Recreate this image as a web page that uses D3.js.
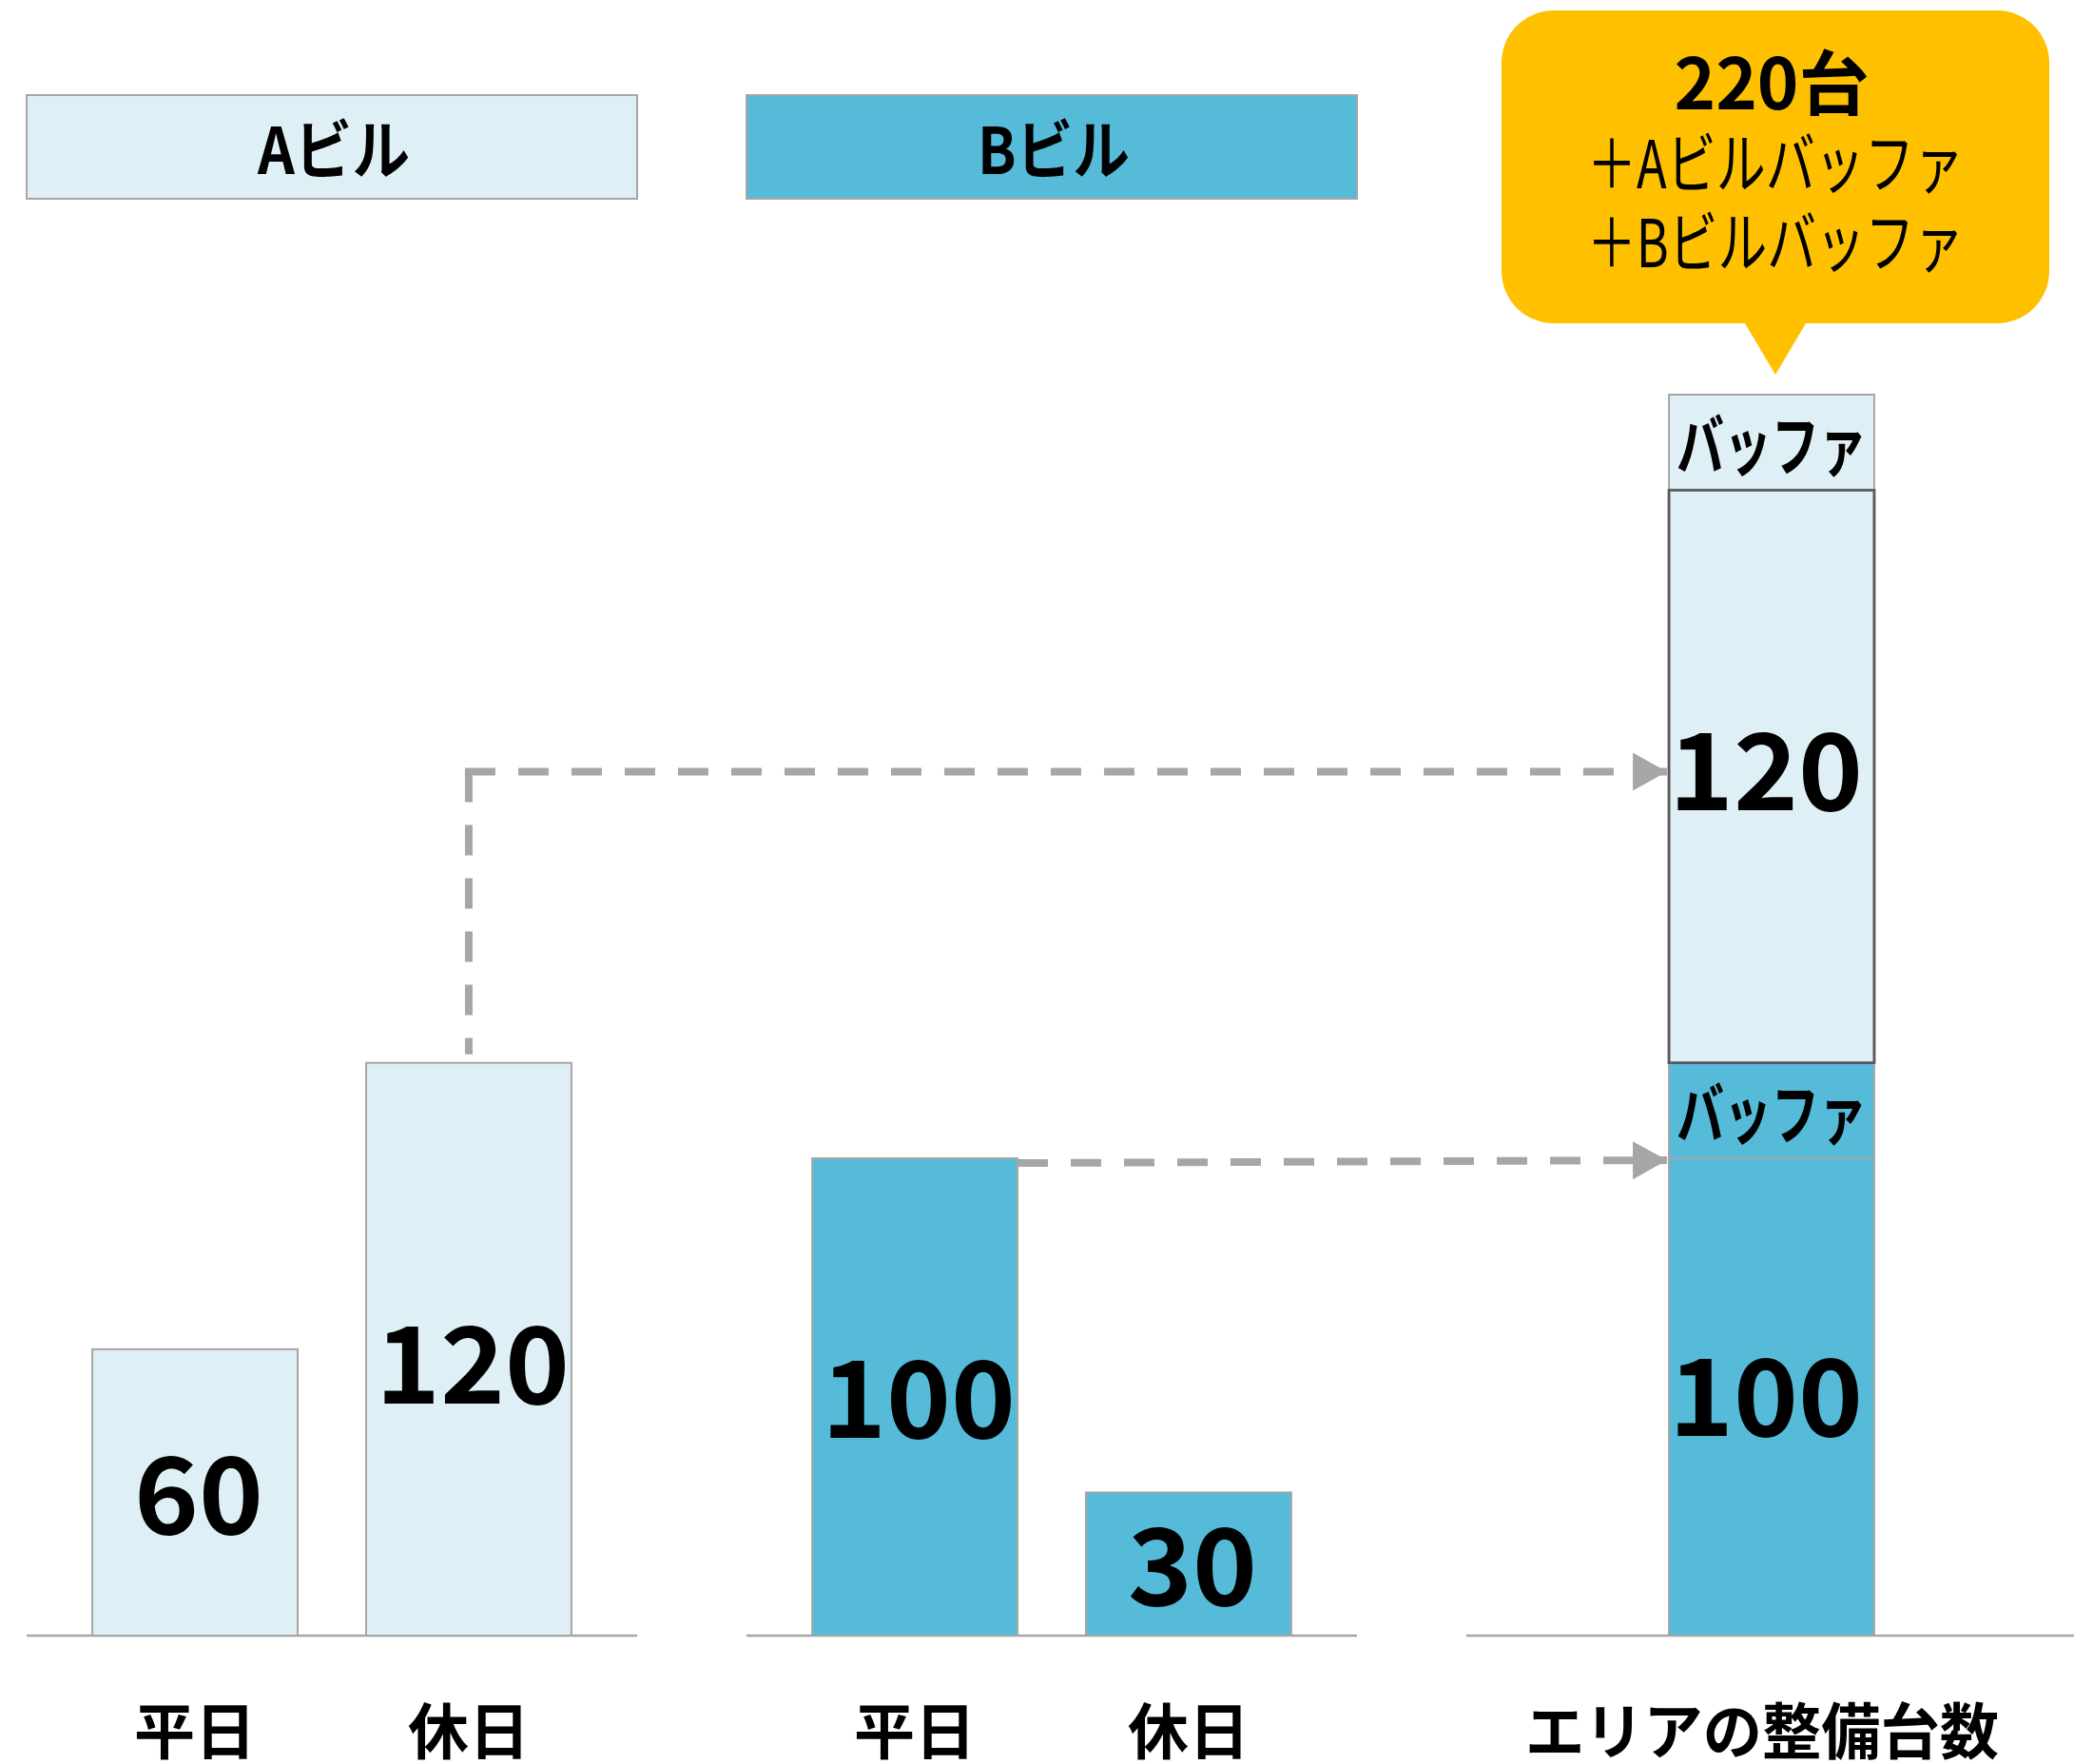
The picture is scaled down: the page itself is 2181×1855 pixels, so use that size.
<!DOCTYPE html>
<html><head><meta charset="utf-8">
<script src="https://cdn.jsdelivr.net/npm/d3@7"></script>
<style>
html,body{margin:0;padding:0;background:#fff;}
svg{display:block;}
text{font-family:"Noto Sans CJK JP","Noto Sans",sans-serif;fill:#000;}
</style></head>
<body>
<svg id="chart" width="2181" height="1855"></svg>
<script>
// ---- data ----
const panels = ["A", "B", "C"];
const groupTitles = ["Aビル", "Bビル"];
const categories = ["平日", "休日"];
const aValues = [60, 120];
const bValues = [100, 30];
const bufferValues = [20, 20];            // B buffer, A buffer
const bufferLabel = "バッファ";
const totalLabel = "エリアの整備台数";
const calloutLines = ["＋Aビルバッファ", "＋Bビルバッファ"];
const unitLabel = "台";

// ---- styles ----
const LIGHT = "#DEF0F6", BLUE = "#55BBD9", GRAY = "#A6A6A6", DARK = "#595959", GOLD = "#FFC000";

const svg = d3.select("#chart");
const stackSegments = [
  {key: "B", value: bValues[0], label: String(bValues[0]), fill: BLUE, stroke: GRAY},
  {key: "Bbuf", value: bufferValues[0], label: bufferLabel, fill: BLUE, stroke: GRAY},
  {key: "A", value: aValues[1], label: String(aValues[1]), fill: LIGHT, stroke: DARK},
  {key: "Abuf", value: bufferValues[1], label: bufferLabel, fill: LIGHT, stroke: GRAY}
];
let acc = 0;
stackSegments.forEach(s => { s.y0 = acc; acc += s.value; s.y1 = acc; });
const stackTotal = acc;

const y = d3.scaleLinear().domain([0, stackTotal]).range([1720, 415]);
const outer = d3.scaleBand().domain(panels).range([28, 2184]).paddingInner(115 / 757);
const inner = d3.scaleBand().domain(categories).range([0, outer.bandwidth()]).paddingInner(0.25).paddingOuter(0.24);
const bw = inner.bandwidth();

const numFS = 112;
function numLabel(g, cx, top, bottom, txt, dy) {
  g.append("text").attr("x", cx).attr("y", (top + bottom) / 2 + 0.367 * numFS + (dy || 0))
    .attr("text-anchor", "middle").attr("font-size", numFS).attr("font-weight", 700)
    .attr("textLength", txt.length * 68).attr("lengthAdjust", "spacingAndGlyphs").text(txt);
}

// title boxes
groupTitles.forEach((t, i) => {
  const p = panels[i];
  svg.append("rect").attr("x", outer(p)).attr("y", 100).attr("width", outer.bandwidth()).attr("height", 109)
    .attr("fill", i === 0 ? LIGHT : BLUE).attr("stroke", GRAY).attr("stroke-width", 2);
  svg.append("text").attr("x", outer(p) + outer.bandwidth() / 2 + 2).attr("y", 183)
    .attr("text-anchor", "middle").attr("font-size", 68).attr("font-weight", 700)
    .attr("textLength", 160).attr("lengthAdjust", "spacingAndGlyphs").text(t);
});

// baselines
panels.forEach(p => {
  svg.append("line").attr("x1", outer(p)).attr("x2", outer(p) + outer.bandwidth())
    .attr("y1", y(0)).attr("y2", y(0)).attr("stroke", GRAY).attr("stroke-width", 2.5);
});

// panel bars
[[aValues, LIGHT, "A"], [bValues, BLUE, "B"]].forEach(([vals, fill, p]) => {
  const g = svg.append("g");
  categories.forEach((c, i) => {
    const x0 = outer(p) + inner(c);
    g.append("rect").attr("x", x0).attr("y", y(vals[i])).attr("width", bw).attr("height", y(0) - y(vals[i]))
      .attr("fill", fill).attr("stroke", GRAY).attr("stroke-width", 2);
    numLabel(g, x0 + bw / 2 + 4, y(vals[i]), y(0), String(vals[i]), vals[i] > 110 ? 16 : 2);
    g.append("text").attr("x", x0 + bw / 2).attr("y", 1844).attr("text-anchor", "middle")
      .attr("font-size", 64).attr("font-weight", 700).text(c);
  });
});

// stacked column
const sx = outer("C") + (outer.bandwidth() - bw) / 2;
const sg = svg.append("g");
stackSegments.forEach(s => {
  sg.append("rect").attr("x", sx).attr("y", y(s.y1)).attr("width", bw).attr("height", y(s.y0) - y(s.y1))
    .attr("fill", s.fill).attr("stroke", s.stroke).attr("stroke-width", s.stroke === DARK ? 2.5 : 2);
});
// redraw dark-bordered segment on top
const segA = stackSegments.find(s => s.key === "A");
sg.append("rect").attr("x", sx).attr("y", y(segA.y1)).attr("width", bw).attr("height", y(segA.y0) - y(segA.y1))
  .attr("fill", "none").attr("stroke", DARK).attr("stroke-width", 2.5);
stackSegments.forEach(s => {
  const cy = (y(s.y0) + y(s.y1)) / 2;
  if (s.label === bufferLabel) {
    sg.append("text").attr("x", sx + bw / 2).attr("y", cy + 30).attr("text-anchor", "middle")
      .attr("font-size", 70).attr("font-weight", 700)
      .attr("textLength", 200).attr("lengthAdjust", "spacingAndGlyphs").text(s.label);
  } else {
    numLabel(sg, sx + bw / 2 - 6, y(s.y1), y(s.y0), s.label, s.key === "A" ? -6 : 0);
  }
});
svg.append("text").attr("x", sx + bw / 2 - 10).attr("y", 1844).attr("text-anchor", "middle")
  .attr("font-size", 64).attr("font-weight", 700)
  .attr("textLength", 498).attr("lengthAdjust", "spacingAndGlyphs").text(totalLabel);

// dashed connectors
const defs = svg.append("defs");
defs.append("marker").attr("id", "arr").attr("markerUnits", "userSpaceOnUse")
  .attr("viewBox", "0 0 36 40").attr("refX", 36).attr("refY", 20)
  .attr("markerWidth", 36).attr("markerHeight", 40).attr("orient", "auto")
  .append("path").attr("d", "M0,0L36,20L0,40Z").attr("fill", GRAY);

const aHolX = outer("A") + inner("休日") + bw / 2;
const aMidY = (y(segA.y0) + y(segA.y1)) / 2 - 5;
const dash = "32,24";
svg.append("path").attr("d", `M${aHolX},${aMidY}L${aHolX},${y(aValues[1]) - 9}`)
  .attr("stroke", GRAY).attr("stroke-width", 8).attr("fill", "none").attr("stroke-dasharray", dash);
svg.append("path").attr("d", `M${aHolX - 4},${aMidY}L${sx - 2},${aMidY}`)
  .attr("stroke", GRAY).attr("stroke-width", 8).attr("fill", "none").attr("stroke-dasharray", dash)
  .attr("marker-end", "url(#arr)");
const bWeekX = outer("B") + inner("平日") + bw;
svg.append("path").attr("d", `M${bWeekX},${y(bValues[0]) + 5}L${sx - 2},${y(bValues[0]) + 2}`)
  .attr("stroke", GRAY).attr("stroke-width", 8).attr("fill", "none").attr("stroke-dasharray", dash)
  .attr("marker-end", "url(#arr)");

// callout
const ccx = sx + bw / 2 + 4;
const L = ccx - 288, R = ccx + 288, T = 11, B = 340, r = 55, tipY = 394;
const cp = d3.path();
cp.moveTo(L + r, T);
cp.lineTo(R - r, T); cp.arcTo(R, T, R, T + r, r);
cp.lineTo(R, B - r); cp.arcTo(R, B, R - r, B, r);
cp.lineTo(ccx + 32, B); cp.lineTo(ccx, tipY); cp.lineTo(ccx - 32, B);
cp.lineTo(L + r, B); cp.arcTo(L, B, L, B - r, r);
cp.lineTo(L, T + r); cp.arcTo(L, T, L + r, T, r);
cp.closePath();
svg.append("path").attr("d", cp.toString()).attr("fill", GOLD);
svg.append("text").attr("x", ccx - 4).attr("y", 115).attr("text-anchor", "middle")
  .attr("font-size", 74).attr("font-weight", 700).text(`${aValues[1] + bValues[0]}${unitLabel}`);
calloutLines.forEach((t, i) => {
  svg.append("text").attr("x", ccx).attr("y", 198 + i * 83).attr("text-anchor", "middle")
    .attr("font-size", 70).attr("font-weight", 400)
    .attr("textLength", 396).attr("lengthAdjust", "spacingAndGlyphs").text(t);
});
</script>
</body></html>
